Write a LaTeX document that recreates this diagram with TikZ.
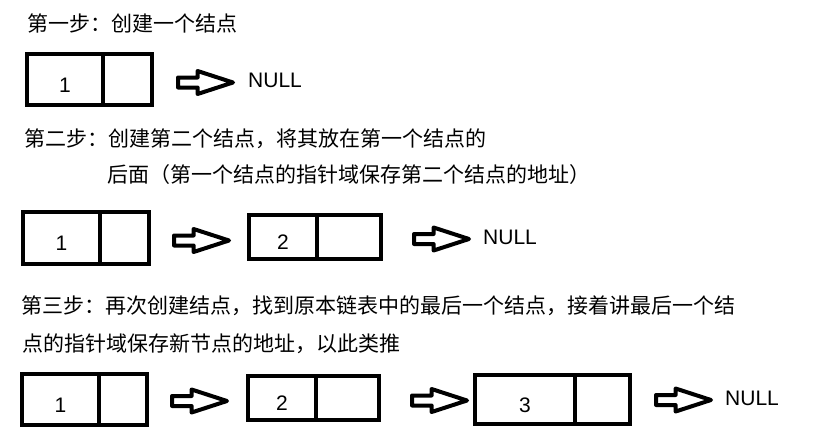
\documentclass[tikz,border=0pt]{standalone}
\usepackage{fontspec}
\setmainfont{Noto Sans CJK SC}
\newfontfamily\latinfont{Liberation Sans}
\usetikzlibrary{shapes.arrows,positioning}
\newcommand{\cellval}[2][6pt]{\raisebox{-5pt}[15pt][0pt]{#2}\hspace{#1}}

\begin{document}
\begin{tikzpicture}[
			x=1pt, y=-1pt,
			datapart/.style={rectangle, draw, line width=4pt, inner sep=0pt, outer sep=0pt, font=\fontsize{21pt}{25pt}\latinfont},
			ptrpart/.style={rectangle, draw, line width=4pt, inner sep=0pt, outer sep=0pt},
			linkarrow/.style={single arrow, draw, line width=4pt, line join=round, inner sep=3pt, minimum height=55pt, minimum width=19pt, single arrow head extend=6.5pt, single arrow tip angle=36, anchor=tail},
			steptext/.style={anchor=base west, inner sep=0pt, font=\fontsize{21pt}{25pt}\selectfont},
			nulltext/.style={anchor=base west, inner sep=0pt, font=\fontsize{21pt}{25pt}\latinfont}
			]
			\useasboundingbox (0,0) rectangle (830,431);
			
			% Step one - a single node
			\node[steptext] (step1) at (27,31) {第一步：创建一个结点};
			\node[datapart, minimum width=76pt, minimum height=51pt, anchor=north west] (a1) at (27,54) {\cellval{1}};
			\node[ptrpart, minimum width=49pt, minimum height=51pt, right=0pt of a1] (a1p) {};
			\node[linkarrow] (a1to) at (176,82.5) {};
			\node[nulltext] (a1null) at (248,87) {NULL};
			
			% Step two - append a second node
			\node[steptext] (step2) at (24,146.5) {第二步：创建第二个结点，将其放在第一个结点的};
			\node[steptext] (step2b) at (107,182.5) {后面（第一个结点的指针域保存第二个结点的地址）};
			\node[datapart, minimum width=77pt, minimum height=52pt, anchor=north west] (b1) at (23,212) {\cellval{1}};
			\node[ptrpart, minimum width=49pt, minimum height=52pt, right=0pt of b1] (b1p) {};
			\node[linkarrow] (b1to) at (172,240.5) {};
			\node[datapart, minimum width=68pt, minimum height=44pt, anchor=north west] (b2) at (249,215) {\cellval{2}};
			\node[ptrpart, minimum width=64pt, minimum height=44pt, right=0pt of b2] (b2p) {};
			\node[linkarrow] (b2to) at (412,239) {};
			\node[nulltext] (b2null) at (483,244) {NULL};
			
			% Step three - and so on
			\node[steptext] (step3) at (21,313) {第三步：再次创建结点，找到原本链表中的最后一个结点，接着讲最后一个结};
			\node[steptext] (step3b) at (22,351) {点的指针域保存新节点的地址，以此类推};
			\node[datapart, minimum width=77pt, minimum height=51pt, anchor=north west] (c1) at (22,374) {\cellval{1}};
			\node[ptrpart, minimum width=48pt, minimum height=51pt, right=0pt of c1] (c1p) {};
			\node[linkarrow] (c1to) at (170,401) {};
			\node[datapart, minimum width=68pt, minimum height=44pt, anchor=north west] (c2) at (248,376) {\cellval{2}};
			\node[ptrpart, minimum width=63pt, minimum height=44pt, right=0pt of c2] (c2p) {};
			\node[linkarrow] (c2to) at (410,400.5) {};
			\node[datapart, minimum width=100pt, minimum height=49pt, anchor=north west] (c3) at (475,375) {\cellval[20pt]{3}};
			\node[ptrpart, minimum width=55pt, minimum height=49pt, right=0pt of c3] (c3p) {};
			\node[linkarrow] (c3to) at (654,400) {};
			\node[nulltext] (c3null) at (725,405) {NULL};
			
		\end{tikzpicture}
\end{document}
